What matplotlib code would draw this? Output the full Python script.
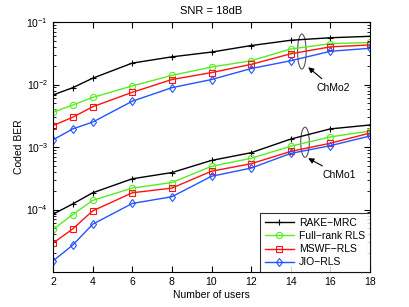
import numpy as np
import matplotlib
matplotlib.use("Agg")
import matplotlib.pyplot as plt
from matplotlib.patches import Ellipse

plt.rcParams['font.family'] = ['Liberation Sans', 'DejaVu Sans']
plt.rcParams['font.size'] = 7.5

# number of users
users = [2, 3, 4, 6, 8, 10, 12, 14, 16, 18]

# channel model 2 (upper group)
rake_ch2 = [6.8e-3, 8.9e-3, 1.26e-2, 2.2e-2, 2.77e-2, 3.3e-2, 4.2e-2, 5.1e-2, 5.6e-2, 5.9e-2]
full_ch2 = [3.6e-3, 4.7e-3, 6.2e-3, 9.5e-3, 1.4e-2, 1.9e-2, 2.4e-2, 3.7e-2, 4.5e-2, 4.7e-2]
mswf_ch2 = [2.2e-3, 3.0e-3, 4.4e-3, 7.5e-3, 1.2e-2, 1.55e-2, 2.1e-2, 3.1e-2, 4.0e-2, 4.3e-2]
jio_ch2 = [1.3e-3, 1.95e-3, 2.5e-3, 5.4e-3, 8.9e-3, 1.2e-2, 1.8e-2, 2.4e-2, 3.4e-2, 3.8e-2]

# channel model 1 (lower group)
rake_ch1 = [8.4e-5, 1.23e-4, 1.85e-4, 3.1e-4, 3.9e-4, 6.1e-4, 8.1e-4, 1.34e-3, 1.95e-3, 2.25e-3]
full_ch1 = [4.8e-5, 8.3e-5, 1.4e-4, 2.2e-4, 2.7e-4, 4.9e-4, 6.6e-4, 1.03e-3, 1.45e-3, 1.8e-3]
mswf_ch1 = [2.9e-5, 4.9e-5, 9.5e-5, 1.85e-4, 2.2e-4, 4.1e-4, 5.4e-4, 8.5e-4, 1.15e-3, 1.67e-3]
jio_ch1 = [1.5e-5, 2.7e-5, 5.8e-5, 1.25e-4, 1.6e-4, 3.4e-4, 4.6e-4, 7.9e-4, 1.05e-3, 1.5e-3]

labels = ['RAKE\u2212MRC', 'Full\u2212rank RLS', 'MSWF\u2212RLS', 'JIO\u2212RLS']
colors = ['black', '#55ee22', '#ff1111', '#2255ff']
markers = ['+', 'o', 's', 'd']

fig = plt.figure(figsize=(4.09, 3.07), dpi=100)
ax = fig.add_axes([53/409, 35/307, 317/409, 250/307])

for ser2, ser1, lab, c, m in zip([rake_ch2, full_ch2, mswf_ch2, jio_ch2],
                                 [rake_ch1, full_ch1, mswf_ch1, jio_ch1],
                                 labels, colors, markers):
    ax.plot(users, ser2, color=c, marker=m, ms=4.5, mfc='none', mew=0.8, lw=1.0, label=lab)
    ax.plot(users, ser1, color=c, marker=m, ms=4.5, mfc='none', mew=0.8, lw=1.0)

ax.set_yscale('log')
ax.set_xlim(2, 18)
ax.set_ylim(1e-5, 1e-1)
ax.set_xticks(range(2, 19, 2))
ax.set_yticks([1e-4, 1e-3, 1e-2, 1e-1])
ax.tick_params(which='both', direction='in', top=True, right=True)
ax.tick_params(which='major', length=4)
ax.tick_params(which='minor', length=2)
ax.set_xlabel('Number of users', labelpad=2)
ax.set_ylabel('Coded BER', labelpad=2)
ax.set_title('SNR = 18dB', fontsize=8, pad=6)

# ellipses and annotations
for cx, cy, h in [(0.785, 0.882, 0.14), (0.795, 0.519, 0.12)]:
    ax.add_patch(Ellipse((cx, cy), 0.027, h, transform=ax.transAxes,
                         fill=False, ec='#555555', lw=0.8))
ax.annotate('ChMo2', xy=(0.805, 0.819), xycoords='axes fraction',
            xytext=(0.884, 0.735), textcoords='axes fraction', ha='center', va='center',
            arrowprops=dict(arrowstyle='-|>', color='black', lw=0.8, mutation_scale=8, shrinkB=0))
ax.annotate('ChMo1', xy=(0.805, 0.455), xycoords='axes fraction',
            xytext=(0.903, 0.388), textcoords='axes fraction', ha='center', va='center',
            arrowprops=dict(arrowstyle='-|>', color='black', lw=0.8, mutation_scale=8, shrinkB=0))

leg = ax.legend(loc='lower right', fancybox=False, edgecolor='black', borderaxespad=0,
                numpoints=1, handlelength=2.8, labelspacing=0.3, borderpad=0.45, handletextpad=0.5)
leg.get_frame().set_linewidth(0.8)

fig.savefig('out.png', dpi=100)
